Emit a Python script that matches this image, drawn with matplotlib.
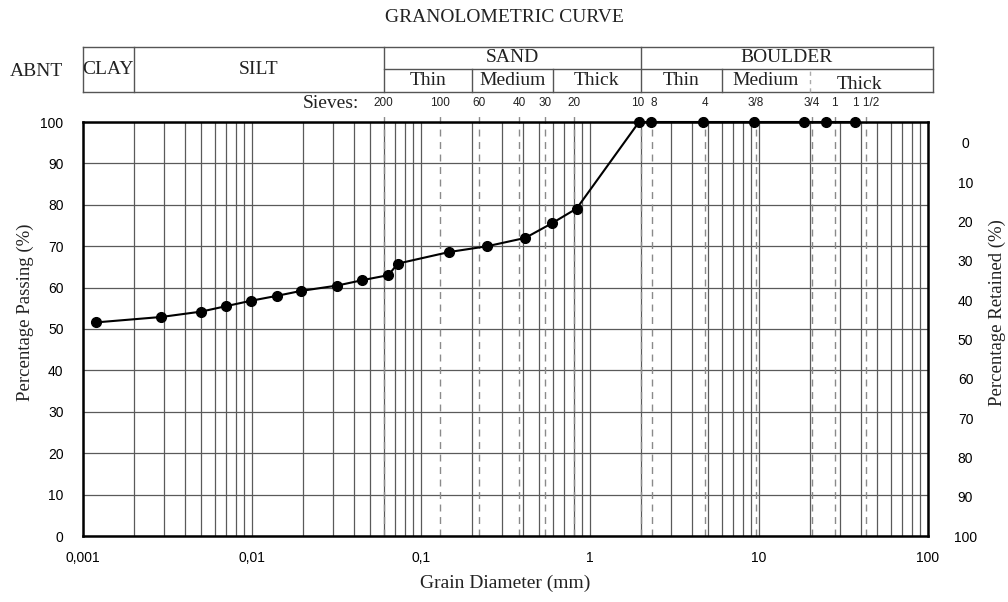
import matplotlib
matplotlib.use('Agg')
import matplotlib.pyplot as plt
import matplotlib.transforms as mtransforms
from matplotlib.ticker import LogLocator, FixedLocator, NullFormatter

# grain size curve (diameter in mm, percentage passing)
diameter_mm = [0.0012, 0.0029, 0.005, 0.007, 0.0098, 0.014, 0.0195, 0.032, 0.045,
               0.064, 0.073, 0.147, 0.247, 0.414, 0.593, 0.834, 1.95, 2.31, 4.68,
               9.34, 18.5, 24.8, 37.0]
passing_pct = [51.6, 52.9, 54.2, 55.5, 56.8, 58.0, 59.2, 60.5, 61.8,
               63.0, 65.8, 68.6, 70.0, 72.0, 75.5, 79.1, 100, 100, 100,
               100, 100, 100, 100]

# sieve openings (mm) and their names
sieve_mm = [0.06, 0.13, 0.22, 0.38, 0.54, 0.8, 2.0, 2.33, 4.8, 9.6, 20.5, 28.0, 43.0]
sieve_names = ['200', '100', '60', '40', '30', '20', '10', '8', '4', '3/8', '3/4', '1', '1 1/2']

# ABNT classification bands (mm)
main_classes = ['CLAY', 'SILT', 'SAND', 'BOULDER']
main_bounds = [0.001, 0.002, 0.06, 2.0, 107.0]
sub_names = ['Thin', 'Medium', 'Thick', 'Thin', 'Medium', 'Thick']
sub_bounds = [0.06, 0.2, 0.6, 2.0, 6.0, 20.0, 107.0]

x_ticks = [0.001, 0.01, 0.1, 1, 10, 100]
x_tick_labels = ['0,001', '0,01', '0,1', '1', '10', '100']
y_ticks = [0, 10, 20, 30, 40, 50, 60, 70, 80, 90, 100]

SERIF = 'Liberation Serif'
SANS = 'Liberation Sans'
GRID = '#5a5a5a'
BOX = '#555555'
INK = '#222222'

fig = plt.figure(figsize=(10.08, 6.02), dpi=100)
W, H = 1008.0, 602.0
ax = fig.add_axes([83 / W, 1 - 536 / H, 845 / W, 414 / H])

ax.set_xscale('log')
ax.set_xlim(0.001, 100)
ax.set_ylim(0, 100)

ax.xaxis.set_major_locator(FixedLocator(x_ticks))
ax.set_xticklabels(x_tick_labels, fontfamily=SANS, fontsize=10)
ax.xaxis.set_minor_locator(LogLocator(base=10, subs=range(2, 10)))
ax.xaxis.set_minor_formatter(NullFormatter())
ax.set_yticks(y_ticks)
ax.set_yticklabels([str(v) for v in y_ticks], fontfamily=SANS, fontsize=10)
ax.tick_params(axis='both', which='both', length=0)
ax.tick_params(axis='x', pad=11)
ax.tick_params(axis='y', pad=14)

ax.grid(True, which='both', axis='x', color=GRID, lw=0.9)
ax.grid(True, which='major', axis='y', color=GRID, lw=0.9)
ax.set_axisbelow(True)
for sp in ax.spines.values():
    sp.set_linewidth(1.8)
    sp.set_color('black')

# sieve lines, running slightly above the frame
for s, name in zip(sieve_mm, sieve_names):
    ax.plot([s, s], [0, 102.5], ls=(0, (5, 4)), color='#8a8a8a', lw=1.0,
            clip_on=False, zorder=2)
    # keep the "10" and "8" labels apart
    dx = {'10': -3, '8': 2}.get(name, 0)
    off = mtransforms.offset_copy(ax.transData, fig=fig, x=dx, y=0, units='dots')
    ax.text(s, 103.2, name, ha='center', va='bottom', fontfamily=SANS,
            fontsize=8.5, color=INK, transform=off)

ax.plot(diameter_mm, passing_pct, '-o', color='black', lw=1.5, ms=7,
        clip_on=False, zorder=6)

# percentage retained scale on the right
ax2 = ax.twinx()
ax2.set_ylim(99.75, -5.33)
ax2.set_yticks(y_ticks)
ax2.set_yticklabels([str(v) for v in y_ticks], fontfamily=SANS, fontsize=10)
ax2.tick_params(axis='y', length=0, pad=27)
for lab in ax2.get_yticklabels():
    lab.set_horizontalalignment('center')
for sp in ax2.spines.values():
    sp.set_visible(False)

# classification table above the plot
tr = mtransforms.blended_transform_factory(ax.transData, ax.transAxes)
y_bot, y_mid, y_top = 1.0725, 1.128, 1.182
kw = dict(color=BOX, lw=1.0, transform=tr, clip_on=False)
ax.plot([main_bounds[0], main_bounds[-1]], [y_top, y_top], **kw)
ax.plot([main_bounds[0], main_bounds[-1]], [y_bot, y_bot], **kw)
ax.plot([sub_bounds[0], sub_bounds[-1]], [y_mid, y_mid], **kw)
for b in main_bounds:
    ax.plot([b, b], [y_bot, y_top], **kw)
for b in sub_bounds[1:-1]:
    if b == 20.0:
        ax.plot([b, b], [y_bot, y_mid], color='#aaaaaa', lw=1.0, ls=(0, (3, 3)),
                transform=tr, clip_on=False)
    elif b not in main_bounds:
        ax.plot([b, b], [y_bot, y_mid], **kw)

tkw = dict(transform=tr, fontfamily=SERIF, fontsize=14, ha='center',
           va='center', color=INK)
for i, name in enumerate(main_classes):
    xc = (main_bounds[i] * main_bounds[i + 1]) ** 0.5
    yc = (y_bot + y_top) / 2 if i < 2 else (y_mid + y_top) / 2
    ax.text(xc, yc, name, **tkw)
for i, name in enumerate(sub_names):
    xc = (sub_bounds[i] * sub_bounds[i + 1]) ** 0.5
    yc = (y_bot + y_mid) / 2
    if i == len(sub_names) - 1:
        xc, yc = 39.5, yc - 0.01
    ax.text(xc, yc, name, **tkw)

fig.text(10 / W, 1 - 72 / H, 'ABNT', fontfamily=SERIF, fontsize=14,
         ha='left', va='center', color=INK)
fig.text(359 / W, 1 - 103 / H, 'Sieves:', fontfamily=SERIF, fontsize=14,
         ha='right', va='center', color=INK)
fig.text(504 / W, 1 - 17 / H, 'GRANOLOMETRIC CURVE', fontfamily=SERIF,
         fontsize=14, ha='center', va='center', color=INK)
fig.text(505 / W, 1 - 583 / H, 'Grain Diameter (mm)', fontfamily=SERIF,
         fontsize=14, ha='center', va='center', color=INK)
fig.text(25 / W, 1 - 312 / H, 'Percentage Passing (%)', fontfamily=SERIF,
         fontsize=13.5, ha='center', va='center', rotation=90, color=INK)
fig.text(997 / W, 1 - 313 / H, 'Percentage Retained (%)', fontfamily=SERIF,
         fontsize=13.5, ha='center', va='center', rotation=90, color=INK)

fig.savefig('out.png', dpi=100)
